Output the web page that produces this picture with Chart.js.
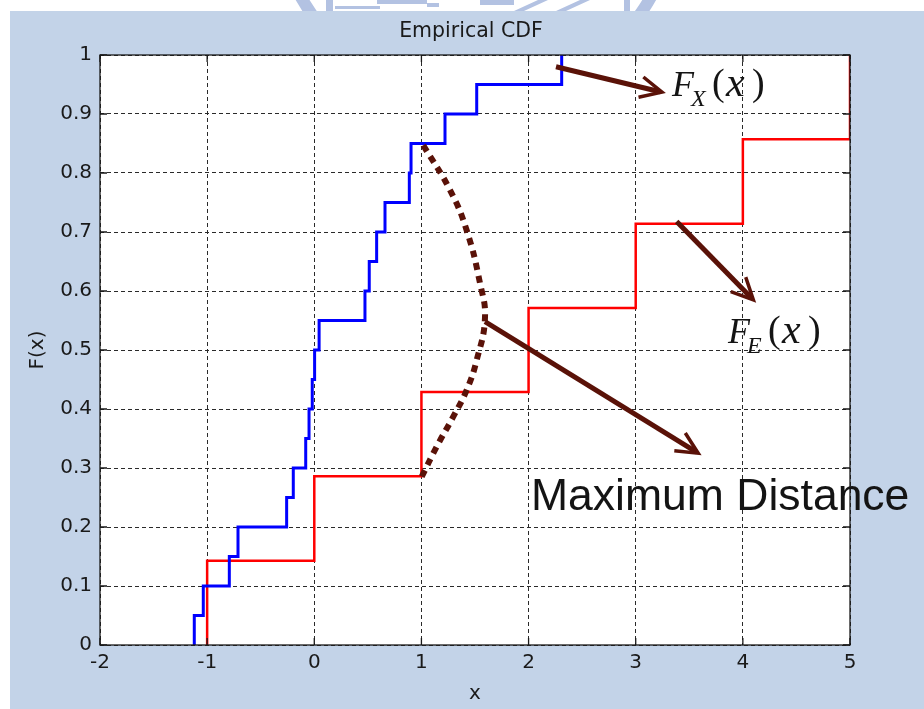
<!DOCTYPE html>
<html>
<head>
<meta charset="utf-8">
<title>Empirical CDF</title>
<script src="https://cdn.jsdelivr.net/npm/chart.js@4.4.1/dist/chart.umd.min.js"></script>
<style>
  html, body { margin: 0; padding: 0; background: #fff; }
  canvas { display: block; }
</style>
</head>
<body>
<canvas id="cdf" width="924" height="709"></canvas>
<script>
// sample points of the two empirical CDFs
const blueX = [-1.12, -1.036, -0.793, -0.712, -0.258, -0.196, -0.08, -0.049, -0.019, 0.003,
  0.045, 0.473, 0.513, 0.582, 0.66, 0.887, 0.903, 1.22, 1.516, 2.309];
const blueF = [0.05, 0.10, 0.15, 0.20, 0.25, 0.30, 0.35, 0.40, 0.45, 0.50,
  0.55, 0.60, 0.65, 0.70, 0.75, 0.80, 0.85, 0.90, 0.95, 1.00];
const redX = [-1, 0, 1, 2, 3, 4, 5];
const redF = [0.143, 0.286, 0.429, 0.571, 0.714, 0.857, 1.0];

const xTicks = [-2, -1, 0, 1, 2, 3, 4, 5];
const yTicks = [0, 0.1, 0.2, 0.3, 0.4, 0.5, 0.6, 0.7, 0.8, 0.9, 1];

// hand drawn annotations, in data units
const curveX = [1.017, 1.267, 1.422, 1.547, 1.593, 1.516, 1.422, 1.297, 1.142, 1.002];
const curveY = [0.847, 0.771, 0.703, 0.613, 0.554, 0.483, 0.432, 0.387, 0.336, 0.285];
const arrowX0 = [2.256, 3.382, 1.593];
const arrowY0 = [0.980, 0.718, 0.548];
const arrowX1 = [3.245, 4.098, 3.583];
const arrowY1 = [0.937, 0.585, 0.325];
const labelX = [3.339, 3.861, 2.023];
const labelY = [0.930, 0.512, 0.229];

const BROWN = '#5a1208';
const tickFont = { family: 'DejaVu Sans', size: 20 };

function stairs(xs, fs) {
  const pts = [{ x: xs[0], y: 0 }];
  xs.forEach((x, i) => pts.push({ x, y: fs[i] }));
  return pts;
}

function drawArrow(ctx, x0, y0, x1, y1) {
  const ang = Math.atan2(y1 - y0, x1 - x0);
  ctx.lineWidth = 5;
  ctx.lineCap = 'butt';
  ctx.beginPath();
  ctx.moveTo(x0, y0);
  ctx.lineTo(x1 - 2 * Math.cos(ang), y1 - 2 * Math.sin(ang));
  ctx.stroke();
  ctx.lineWidth = 3.5;
  ctx.lineJoin = 'miter';
  ctx.beginPath();
  ctx.moveTo(x1 - 24 * Math.cos(ang - 0.45), y1 - 24 * Math.sin(ang - 0.45));
  ctx.lineTo(x1, y1);
  ctx.lineTo(x1 - 24 * Math.cos(ang + 0.45), y1 - 24 * Math.sin(ang + 0.45));
  ctx.stroke();
}

// F_sub(x) written the way the equation editor does it
function drawFunc(ctx, x, y, sub) {
  const serif = '"Liberation Serif", "DejaVu Serif", serif';
  ctx.textAlign = 'left';
  ctx.textBaseline = 'alphabetic';
  ctx.font = 'italic 36px ' + serif;
  ctx.fillText('F', x, y);
  ctx.font = 'italic 24px ' + serif;
  ctx.fillText(sub, x + 19, y + 10);
  ctx.font = '38px ' + serif;
  ctx.fillText('(', x + 40, y - 1);
  ctx.fillText(')', x + 80, y - 1);
  ctx.font = 'italic 42px ' + serif;
  ctx.fillText('x', x + 54, y);
}

const backdrop = {
  id: 'backdrop',
  beforeDraw(chart) {
    const { ctx, chartArea: a, width, height } = chart;
    ctx.save();
    ctx.fillStyle = '#ffffff';
    ctx.fillRect(0, 0, width, height);
    // cropped watermark logo above the slide panel
    ctx.strokeStyle = '#b3c2e2';
    ctx.fillStyle = '#b3c2e2';
    ctx.lineWidth = 12;
    ctx.beginPath();
    ctx.arc(476, -100, 200, 0.2, Math.PI - 0.2);
    ctx.stroke();
    ctx.fillRect(326, 0, 7, 11);
    ctx.fillRect(335, 6, 45, 3);
    ctx.fillRect(377, 0, 50, 4);
    ctx.fillRect(427, 3, 12, 4);
    ctx.fillRect(480, 0, 34, 5);
    ctx.beginPath();
    ctx.moveTo(514, 11); ctx.lineTo(524, 11); ctx.lineTo(548, 0); ctx.lineTo(538, 0);
    ctx.moveTo(556, 11); ctx.lineTo(566, 11); ctx.lineTo(590, 0); ctx.lineTo(580, 0);
    ctx.fill();
    ctx.fillRect(624, 0, 6, 11);
    // slide panel and white axes area
    ctx.fillStyle = '#c3d3e8';
    ctx.fillRect(10, 11, width - 10, height - 11);
    ctx.fillStyle = '#ffffff';
    ctx.fillRect(a.left, a.top, a.right - a.left, a.bottom - a.top);
    ctx.restore();
  },
  afterDatasetsDraw(chart) {
    const { ctx, chartArea: a, scales: { x, y } } = chart;
    ctx.save();
    // axes box with inward ticks
    ctx.strokeStyle = '#1a1a1a';
    ctx.lineWidth = 1.3;
    ctx.strokeRect(a.left, a.top, a.right - a.left, a.bottom - a.top);
    ctx.beginPath();
    xTicks.forEach(v => {
      const px = x.getPixelForValue(v);
      ctx.moveTo(px, a.bottom); ctx.lineTo(px, a.bottom - 7);
      ctx.moveTo(px, a.top); ctx.lineTo(px, a.top + 7);
    });
    yTicks.forEach(v => {
      const py = y.getPixelForValue(v);
      ctx.moveTo(a.left, py); ctx.lineTo(a.left + 7, py);
      ctx.moveTo(a.right, py); ctx.lineTo(a.right - 7, py);
    });
    ctx.stroke();

    // arrows
    ctx.strokeStyle = BROWN;
    arrowX0.forEach((v, i) => {
      drawArrow(ctx,
        x.getPixelForValue(v), y.getPixelForValue(arrowY0[i]),
        x.getPixelForValue(arrowX1[i]), y.getPixelForValue(arrowY1[i]));
    });

    // labels
    ctx.fillStyle = '#141414';
    drawFunc(ctx, x.getPixelForValue(labelX[0]), y.getPixelForValue(labelY[0]), 'X');
    drawFunc(ctx, x.getPixelForValue(labelX[1]), y.getPixelForValue(labelY[1]), 'E');
    ctx.font = '44.5px "Liberation Sans", Arial, sans-serif';
    ctx.textAlign = 'left';
    ctx.textBaseline = 'alphabetic';
    ctx.fillText('Maximum Distance', x.getPixelForValue(labelX[2]), y.getPixelForValue(labelY[2]));

    // title
    ctx.font = '20.5px "DejaVu Sans", sans-serif';
    ctx.textAlign = 'center';
    ctx.textBaseline = 'middle';
    ctx.fillStyle = '#1a1a1a';
    ctx.fillText('Empirical CDF', 471, 32);
    ctx.restore();
  }
};

new Chart(document.getElementById('cdf'), {
  type: 'line',
  data: {
    datasets: [
      {
        label: 'distance',
        data: curveX.map((v, i) => ({ x: v, y: curveY[i] })),
        borderColor: BROWN,
        borderWidth: 6,
        borderDash: [7, 6],
        borderCapStyle: 'butt',
        tension: 0.45,
        pointRadius: 0,
        order: 0
      },
      {
        label: 'F_X(x)',
        data: stairs(blueX, blueF),
        borderColor: '#0000ff',
        borderWidth: 3,
        stepped: 'before',
        pointRadius: 0,
        order: 1
      },
      {
        label: 'F_E(x)',
        data: stairs(redX, redF),
        borderColor: '#ff0000',
        borderWidth: 2.5,
        stepped: 'before',
        pointRadius: 0,
        order: 2
      }
    ]
  },
  options: {
    responsive: false,
    animation: false,
    devicePixelRatio: 1,
    events: [],
    layout: { padding: { left: 0, right: 74, top: 55, bottom: 0 } },
    plugins: {
      legend: { display: false },
      tooltip: { enabled: false }
    },
    scales: {
      x: {
        type: 'linear',
        min: -2,
        max: 5,
        afterBuildTicks: s => { s.ticks = xTicks.map(v => ({ value: v })); },
        afterFit: s => { s.height = 64; },
        ticks: { color: '#1a1a1a', font: tickFont, padding: 6, callback: v => String(v) },
        grid: { color: '#2a2a2a', lineWidth: 1, drawTicks: false },
        border: { display: false, dash: [4, 3] },
        title: { display: true, text: 'x', color: '#1a1a1a', font: tickFont, padding: { top: 0, bottom: 3 } }
      },
      y: {
        type: 'linear',
        min: 0,
        max: 1,
        afterBuildTicks: s => { s.ticks = yTicks.map(v => ({ value: v })); },
        afterFit: s => { s.width = 100; },
        ticks: { color: '#1a1a1a', font: tickFont, padding: 8, callback: v => String(v) },
        grid: { color: '#2a2a2a', lineWidth: 1, drawTicks: false },
        border: { display: false, dash: [4, 3] },
        title: { display: true, text: 'F(x)', color: '#1a1a1a', font: tickFont, padding: { top: 26, bottom: 0 } }
      }
    }
  },
  plugins: [backdrop]
});
</script>
</body>
</html>
